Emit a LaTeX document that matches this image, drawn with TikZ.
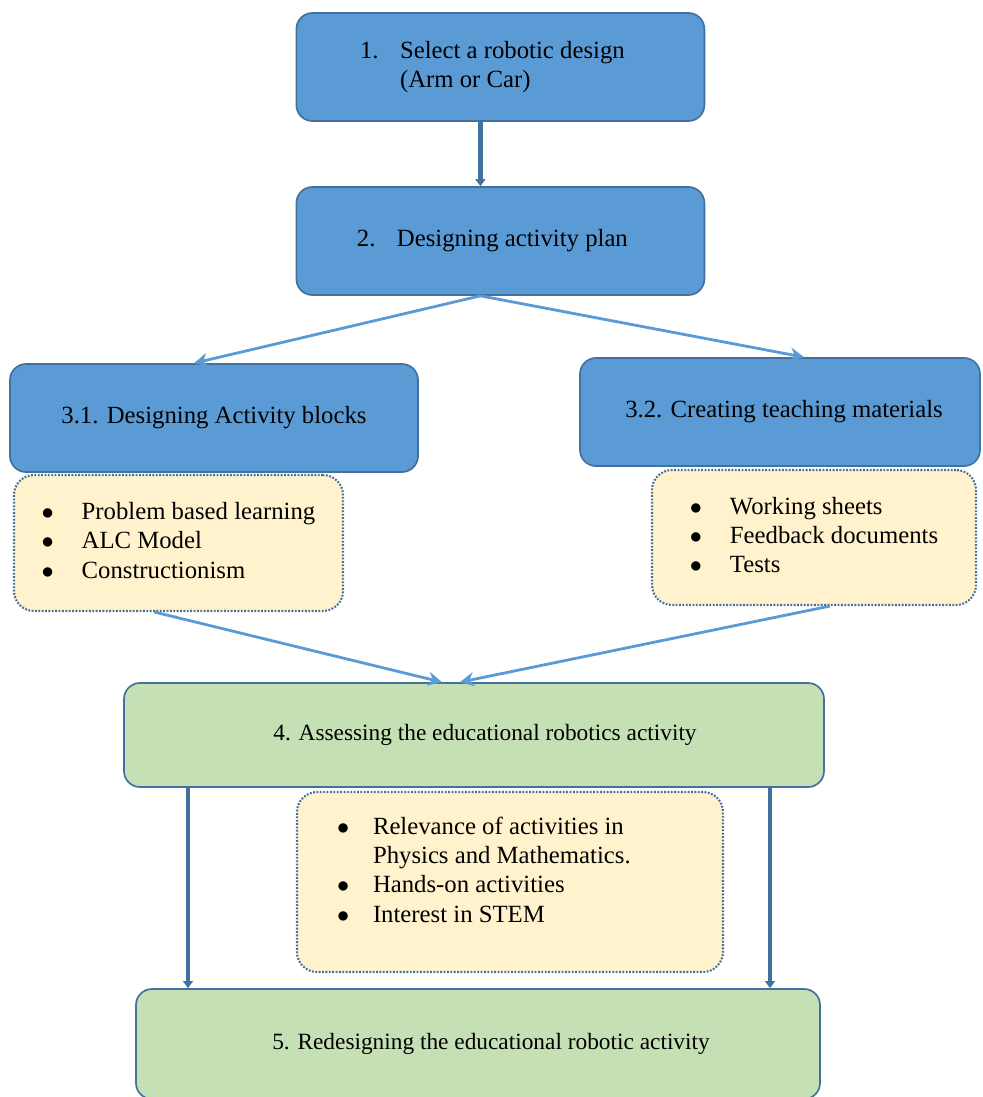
\documentclass[tikz,border=0pt]{standalone}
\usepackage{fontspec}
\setmainfont{Liberation Serif}
\usepackage{tikz}
\usetikzlibrary{calc}
\usetikzlibrary{positioning}
\usetikzlibrary{arrows.meta}
\definecolor{stepBlue}{HTML}{5B9BD5}
\definecolor{stepEdge}{HTML}{41719C}
\definecolor{stepGreen}{HTML}{C5E0B4}
\definecolor{noteYellow}{HTML}{FFF2CC}
\tikzstyle{stepnode} = [draw=stepEdge, line width=1.2pt, rounded corners=0.4cm, fill=stepBlue, align=center, font=\fontsize{17.6}{20.8}\selectfont]
\tikzstyle{colorGreen} = [fill=stepGreen, font=\fontsize{16.6}{20.8}\selectfont]
\tikzstyle{notenode} = [draw=stepEdge, line width=1.5pt, dash pattern=on 1.3pt off 1.1pt, rounded corners=0.5cm, fill=noteYellow, font=\fontsize{17.6}{20.8}\selectfont]
\tikzstyle{flowarrow} = [draw=stepBlue, line width=2pt, -{Stealth[length=10pt,width=10pt]}]
\tikzstyle{mainarrow} = [draw=stepEdge, line width=3pt, -{Triangle[length=5pt,width=7pt]}]

\begin{document}
\begin{tikzpicture}
\useasboundingbox (0,0) rectangle (24.55,-27.425);
\node[stepnode, minimum width=10.2cm, minimum height=2.7cm] (sel_design) at (12.51,-1.675) {\hspace*{-0.4cm}\raisebox{-0.08cm}{\begin{tabular}{@{}p{1cm}@{}l@{}}1.&Select a robotic design\\&(Arm or Car)\end{tabular}}};
\node[stepnode, minimum width=10.2cm, minimum height=2.7cm] (act_plan) at ($(sel_design)+(0,-4.35)$) {\hspace*{-0.4cm}\raisebox{-0.08cm}{\begin{tabular}{@{}p{1cm}@{}l@{}}2.&Designing activity plan\end{tabular}}};
\node[stepnode, minimum width=10.2cm, minimum height=2.7cm] (act_blocks) at ($(act_plan)+(-7.16,-4.425)$) {\raisebox{-0.08cm}{3.1. Designing Activity blocks}};
\node[stepnode, minimum width=10cm, minimum height=2.7cm] (teach_mat) at ($(act_plan)+(6.99,-4.275)$) {\hspace*{0.2cm}\raisebox{-0.08cm}{3.2. Creating teaching materials}};
\node[notenode, minimum width=8.225cm, minimum height=3.4cm] (blocks_list) at ($(act_blocks)+(-0.8875,-3.125)$) {\begin{tabular}{@{}p{1cm}@{}l@{}}
    $\bullet$ & Problem based learning\\
    $\bullet$ & ALC Model\\
    $\bullet$ & Constructionism
\end{tabular}};
\node[notenode, minimum width=8.1cm, minimum height=3.375cm] (mat_list) at ($(teach_mat)+(0.85,-3.1375)$) {\begin{tabular}{@{}p{1cm}@{}l@{}}
    $\bullet$ & Working sheets\\
    $\bullet$ & Feedback documents\\
    $\bullet$ & Tests
\end{tabular}};
\node[stepnode, colorGreen, minimum width=17.5cm, minimum height=2.6cm] (assess) at ($(act_plan)+(-0.66,-12.35)$) {\hspace*{0.55cm}\raisebox{-0.08cm}{4. Assessing the educational robotics activity}};
\node[notenode, inner sep=0pt, minimum width=10.65cm, minimum height=4.5cm] (assess_list) at ($(assess)+(0.9,-3.675)$) {\begin{minipage}[c][4.5cm][t]{10.65cm}
    \vspace*{0.55cm}\hspace*{1cm}\begin{tabular}[t]{@{}p{0.9cm}@{}l@{}}
    $\bullet$ & Relevance of activities in\\
              & Physics and Mathematics.\\
    $\bullet$ & Hands-on activities\\
    $\bullet$ & Interest in STEM
    \end{tabular}
\end{minipage}};
\node[stepnode, colorGreen, minimum width=17.1cm, minimum height=2.75cm] (redesign) at ($(assess)+(0.1,-7.725)$) {\hspace*{0.65cm}\raisebox{-0.08cm}{5. Redesigning the educational robotic activity}};

\draw[mainarrow] ($(sel_design.south)+(-0.5,0)$) -- ($(act_plan.north)+(-0.5,0)$);
\draw[flowarrow] ($(act_plan.south)+(-0.5,0)$) -- ($(act_blocks.north)+(-0.5,0)$);
\draw[flowarrow] ($(act_plan.south)+(-0.5,0)$) -- ($(teach_mat.north)+(0.6,0)$);
\draw[flowarrow] ($(blocks_list.south)+(-0.6,0)$) -- ($(assess.north)+(-0.8,0)$);
\draw[flowarrow] ($(mat_list.south)+(0.4,0)$) -- ($(assess.north)+(-0.35,0)$);
\coordinate (down_left) at ($(assess.south)+(-7.15,0)$);
\coordinate (down_right) at ($(assess.south)+(7.4,0)$);
\draw[mainarrow] (down_left) -- (down_left |- redesign.north);
\draw[mainarrow] (down_right) -- (down_right |- redesign.north);
\end{tikzpicture}
\end{document}
